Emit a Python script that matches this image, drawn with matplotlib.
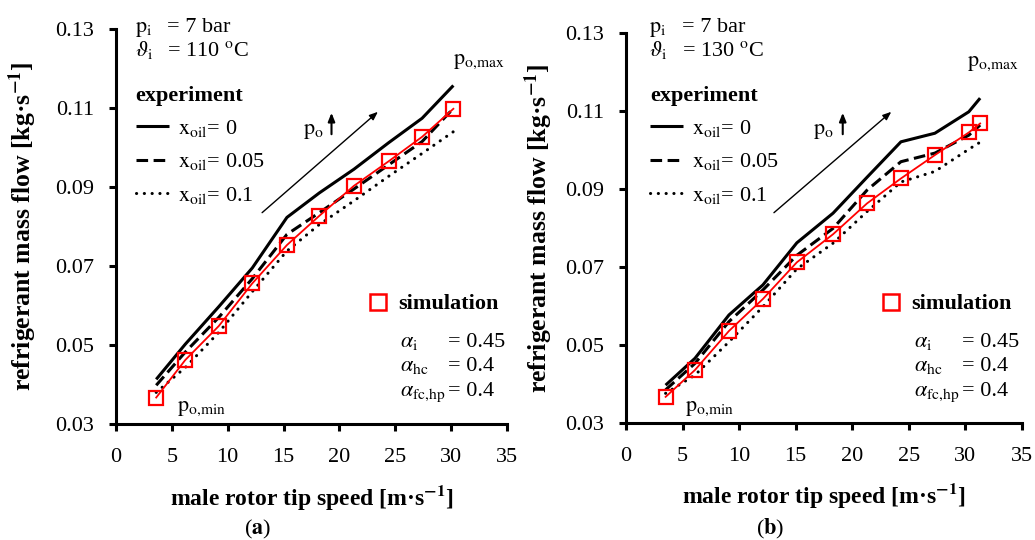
import matplotlib
matplotlib.use("Agg")
import matplotlib.pyplot as plt
from matplotlib.lines import Line2D

# ---------------- data ----------------
x_a = [3.6, 6.2, 9.2, 12.2, 15.3, 18.2, 21.3, 24.4, 27.4, 30.2]
sim_a = [0.0367, 0.0462, 0.0548, 0.0656, 0.0753, 0.0827, 0.0903, 0.0965, 0.1027, 0.1098]
exp0_a = [0.0413, 0.0502, 0.0597, 0.0695, 0.0823, 0.0885, 0.0945, 0.1012, 0.1074, 0.1157]
exp005_a = [0.0398, 0.0482, 0.0570, 0.0668, 0.0780, 0.0835, 0.0895, 0.0956, 0.1015, 0.1099]
exp01_a = [0.0380, 0.0443, 0.0532, 0.0635, 0.0738, 0.0805, 0.0865, 0.0927, 0.0985, 0.1040]

x_b = [3.5, 6.1, 9.1, 12.1, 15.1, 18.3, 21.3, 24.3, 27.3, 30.3, 31.3]
sim_b = [0.0367, 0.0436, 0.0536, 0.0618, 0.0712, 0.0784, 0.0863, 0.0927, 0.0987, 0.1045, 0.1068]
exp0_b = [0.0397, 0.0466, 0.0577, 0.0654, 0.0762, 0.0838, 0.0930, 0.1021, 0.1043, 0.1098, 0.1133]
exp005_b = [0.0385, 0.0453, 0.0560, 0.0641, 0.0730, 0.0799, 0.0897, 0.0970, 0.0992, 0.1038, 0.1064]
exp01_b = [0.0376, 0.0423, 0.0508, 0.0598, 0.0695, 0.0761, 0.0842, 0.0918, 0.0945, 0.1002, 0.1020]

x_ticks = [0, 5, 10, 15, 20, 25, 30, 35]
y_ticks = [0.03, 0.05, 0.07, 0.09, 0.11, 0.13]
y_tick_labels = ["0.03", "0.05", "0.07", "0.09", "0.11", "0.13"]
temps = ["110", "130"]
panel_tags = ["a", "b"]
oil_labels = [r"$\mathrm{x_{oil}}$= 0", r"$\mathrm{x_{oil}}$= 0.05", r"$\mathrm{x_{oil}}$= 0.1"]

# ---------------- style ----------------
plt.rcParams["font.family"] = "serif"
plt.rcParams["font.serif"] = ["Liberation Serif", "DejaVu Serif"]
plt.rcParams["mathtext.fontset"] = "stix"

W, H = 1035, 540
fig = plt.figure(figsize=(W / 100, H / 100), dpi=100)

def P(x, y):
    return (x / W, 1 - y / H)

FS = 16
LW = 2.2
RED = "#ff0000"

panels = [
    dict(box=(116, 29, 507, 424), x=x_a, sim=sim_a, e0=exp0_a, e1=exp005_a, e2=exp01_a, ylx=-0.197),
    dict(box=(626, 33, 1022, 423), x=x_b, sim=sim_b, e0=exp0_b, e1=exp005_b, e2=exp01_b, ylx=-0.18),
]

for i, p in enumerate(panels):
    x0, y0, x1, y1 = p["box"]
    ax = fig.add_axes([x0 / W, 1 - y1 / H, (x1 - x0) / W, (y1 - y0) / H])
    l0, = ax.plot(p["x"], p["e0"], color="k", lw=LW, ls="-", solid_capstyle="butt")
    l1, = ax.plot(p["x"], p["e1"], color="k", lw=LW, ls=(0, (3.8, 1.8)), dash_capstyle="butt")
    l2, = ax.plot(p["x"], p["e2"], color="k", lw=LW, ls=(0, (0.05, 2.5)), dash_capstyle="round")
    ax.plot(p["x"], p["sim"], color=RED, lw=1.3, marker="s", ms=9.5, mfc="none",
            mec=RED, mew=1.6, zorder=5)

    ax.set_xlim(0, 35)
    ax.set_ylim(0.03, 0.13)
    ax.set_xticks(x_ticks)
    ax.set_yticks(y_ticks)
    ax.set_yticklabels(y_tick_labels)
    for s in ["top", "right"]:
        ax.spines[s].set_visible(False)
    for s in ["left", "bottom"]:
        ax.spines[s].set_linewidth(LW)
    ax.tick_params(direction="out", length=5, width=LW, labelsize=FS, pad=11)
    ax.tick_params(axis="x", pad=12)

    ax.set_xlabel(r"male rotor tip speed [m·s$^{\mathbf{-1}}$]", fontsize=17, fontweight="bold")
    ax.set_ylabel(r"refrigerant mass flow [kg·s$^{\mathbf{-1}}$]", fontsize=18.5, fontweight="bold")
    ax.xaxis.set_label_coords(0.5, -0.15)
    ax.yaxis.set_label_coords(p["ylx"], 0.5)

    ox = x0
    s = (x1 - x0) / 391.0
    def Q(px, py):
        return P(ox + (px - 116) * s, py)

    # condition text
    fig.text(*Q(135 + 4 * i, 32), r"$\mathrm{p_i}$", fontsize=FS, va="baseline")
    fig.text(*Q(167 + 4 * i, 32), "= 7 bar", fontsize=FS, va="baseline")
    fig.text(*Q(135 + 4 * i, 56), r"$\vartheta_\mathrm{i}$", fontsize=FS, va="baseline")
    fig.text(*Q(167 + 4 * i, 56), "= " + temps[i] + r" $^{\mathrm{o}}$C", fontsize=FS, va="baseline")

    # experiment legend
    leg = ax.legend([l0, l1, l2], oil_labels, title="experiment",
                    title_fontproperties={"weight": "bold", "size": FS},
                    loc="upper left", bbox_to_anchor=Q(135.5 + 4 * i, 86),
                    bbox_transform=fig.transFigure, frameon=False, fontsize=FS,
                    borderpad=0, borderaxespad=0, handlelength=1.5, handletextpad=0.4,
                    labelspacing=0.55, alignment="left")
    ax.add_artist(leg)

    # simulation legend
    sim_handle = Line2D([], [], ls="none", marker="s", ms=12, mfc="none", mec=RED, mew=1.8)
    ax.legend([sim_handle], ["simulation"], loc="center left",
              bbox_to_anchor=Q(366, 304), bbox_transform=fig.transFigure,
              frameon=False, prop={"weight": "bold", "size": FS},
              borderpad=0, borderaxespad=0, handlelength=1.1, handletextpad=0.35)

    # alpha parameters
    for lab, val, yb in [(r"$\alpha_\mathrm{i}$", "= 0.45", 347),
                         (r"$\alpha_\mathrm{hc}$", "= 0.4", 371),
                         (r"$\alpha_\mathrm{fc{,}hp}$", "= 0.4", 396)]:
        fig.text(*Q(400, yb), lab, fontsize=FS, va="baseline")
        fig.text(*Q(448, yb), val, fontsize=FS, va="baseline")

    # p_o arrows and labels
    fig.text(*Q(303 - 2 * i, 134), r"$\mathrm{p_o}$", fontsize=FS, va="baseline")
    ax.annotate("", xy=Q(331.5 - 1.5 * i, 110), xytext=Q(331.5 - 1.5 * i, 137),
                xycoords="figure fraction", textcoords="figure fraction",
                arrowprops=dict(arrowstyle="-|>,head_length=0.5,head_width=0.2", lw=1.5, color="k"))
    ax.annotate("", xy=Q(380, 110), xytext=Q(260, 214.5),
                xycoords="figure fraction", textcoords="figure fraction",
                arrowprops=dict(arrowstyle="-|>,head_length=0.5,head_width=0.2", lw=1.0, color="k"))
    fig.text(*Q(453, 64 + 2 * i), r"$\mathrm{p_{o{,}max}}$", fontsize=FS, va="baseline")
    fig.text(*Q(176.7 - 2 * i, 411), r"$\mathrm{p_{o{,}min}}$", fontsize=FS, va="baseline")

    # panel tag
    fig.text(*Q(258, 529), r"($\mathbf{" + panel_tags[i] + r"}$)", fontsize=16,
             ha="center", va="center")

fig.savefig("out.png", dpi=100)
